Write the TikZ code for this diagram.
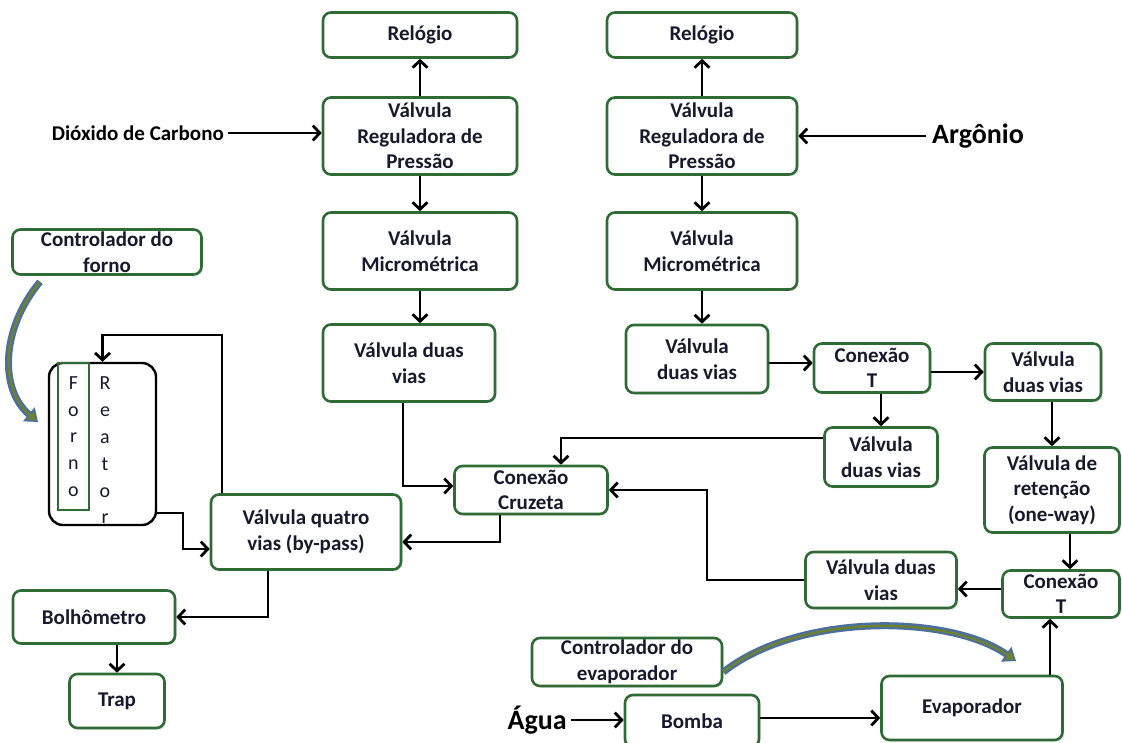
\documentclass[tikz,border=0pt]{standalone}
\usepackage{fontspec}
\setmainfont{Carlito}
\usetikzlibrary{arrows.meta,positioning,shadows}
\definecolor{boxgreen}{RGB}{47,107,53}
\definecolor{txt}{RGB}{25,25,45}
\definecolor{ctrlblue}{RGB}{74,111,160}
\definecolor{ctrlolive}{RGB}{110,128,50}
\tikzset{
  blk/.style={draw=boxgreen, line width=2.6pt, rounded corners=8pt, fill=white, align=center,
    text=txt, font=\fontsize{21}{25.5}\selectfont\bfseries, inner sep=0pt,
    drop shadow={opacity=0.25, shadow xshift=1.5pt, shadow yshift=-1.5pt}},
  lbl/.style={text=black, font=\fontsize{21}{25.5}\selectfont\bfseries, inner sep=0pt},
  biglbl/.style={text=black, font=\fontsize{28}{32}\selectfont\bfseries, inner sep=0pt},
  arr/.style={draw=black, line width=2.8pt, -{Straight Barb[length=7pt,width=15pt]}},
  ctrl/.style={draw=ctrlblue, line width=7pt, -{Triangle[length=12pt,width=18pt,line width=1.5pt,fill=ctrlolive]},
    postaction={draw=ctrlolive, line width=2.5pt, -, shorten >=10pt}},
  letters/.style={text=txt, font=\fontsize{20}{26.8}\selectfont, align=center, inner sep=0pt}
}
\begin{document}
\begin{tikzpicture}[x=1pt, y=-1pt]
\useasboundingbox (0,0) rectangle (1122,743);
% gas lines
\node[blk, minimum width=194pt, minimum height=45pt] (rel1) at (420,35) {Relógio};
\node[blk, minimum width=190pt, minimum height=45pt] (rel2) at (702,35) {Relógio};
\node[blk, minimum width=194pt, minimum height=77pt] (reg1) at (420,136) {Válvula\\Reguladora de\\Pressão};
\node[blk, minimum width=190pt, minimum height=77pt] (reg2) at (702,136) {Válvula\\Reguladora de\\Pressão};
\node[blk, minimum width=194pt, minimum height=77pt] (mic1) at (420,251) {Válvula\\Micrométrica};
\node[blk, minimum width=190pt, minimum height=77pt] (mic2) at (702,251) {Válvula\\Micrométrica};
\node[blk, minimum width=172pt, minimum height=77pt] (vdv1) at (409,363) {Válvula duas\\vias};
\node[blk, minimum width=142pt, minimum height=68pt] (vdv2) at (697,359) {Válvula\\duas vias};
\node[blk, minimum width=116pt, minimum height=49pt] (cT1) at (872,368) {Conexão\\T};
\node[blk, minimum width=116pt, minimum height=57pt] (vdv3) at (1043,372) {Válvula\\duas vias};
\node[blk, minimum width=113pt, minimum height=59pt] (vdv4) at (881,457) {Válvula\\duas vias};
\node[blk, minimum width=135pt, minimum height=85pt] (ret) at (1052,490) {Válvula de\\retenção\\(one-way)};
\node[blk, minimum width=117pt, minimum height=47pt] (cT2) at (1061,594) {Conexão\\T};
\node[blk, minimum width=151pt, minimum height=56pt] (vdv5) at (881,580) {Válvula duas\\vias};
\node[blk, minimum width=153pt, minimum height=48pt] (cruz) at (531,490) {Conexão\\Cruzeta};
\node[blk, minimum width=190pt, minimum height=75pt] (quat) at (306,532) {Válvula quatro\\vias (by-pass)};
\node[blk, minimum width=162pt, minimum height=53pt] (bolh) at (94,617) {Bolhômetro};
\node[blk, minimum width=95pt, minimum height=54pt] (trap) at (117,701) {Trap};
% controllers, water line
\node[blk, minimum width=189pt, minimum height=45pt] (cforno) at (107,252) {Controlador do\\forno};
\node[blk, minimum width=190pt, minimum height=48pt] (cevap) at (627,662) {Controlador do\\evaporador};
\node[blk, minimum width=134pt, minimum height=52pt] (bomba) at (692,721) {Bomba};
\node[blk, minimum width=181pt, minimum height=64pt] (evap) at (972,708) {Evaporador};
% furnace + reactor
\node[draw=black, line width=2.4pt, rounded corners=14pt, minimum width=107pt, minimum height=162pt] (reator) at (102.5,444) {};
\node[draw=boxgreen, line width=1.8pt, minimum width=31pt, minimum height=147pt] (forno) at (73.5,436.5) {};
\node[letters] (fornoTxt) at (73.5,436.5) {F\\o\\r\\n\\o};
\node[letters] (reatorTxt) at (105,450.5) {R\\e\\a\\t\\o\\r};
% feed labels
\node[lbl, anchor=east] (dioxido) at (224,133) {Dióxido de Carbono};
\node[biglbl, anchor=west] (argonio) at (932,136) {Argônio};
\node[biglbl, anchor=east] (agua) at (567,720) {Água};
% bend points
\coordinate (bendR) at (707,580);
\coordinate (bendL) at (183,513);
\coordinate (bendT) at (222,335);
\coordinate (fornoTip) at (38,422);
\coordinate (evapTip) at (1016,661);
% connectors
\draw[arr] ([xshift=4pt]dioxido.east) -- (dioxido.east -| reg1.west);
\draw[arr] ([xshift=-6pt]argonio.west) -- (argonio.west -| reg2.east);
\draw[arr] (reg1.north) -- (rel1.south);
\draw[arr] (reg2.north) -- (rel2.south);
\draw[arr] (reg1.south) -- (mic1.north);
\draw[arr] (reg2.south) -- (mic2.north);
\draw[arr] (mic1.south) -- (mic1.south |- vdv1.north);
\draw[arr] (mic2.south) -- (mic2.south |- vdv2.north);
\draw[arr] ([xshift=-6pt]vdv1.south) |- ([yshift=4pt]cruz.west);
\draw[arr] ([yshift=-4pt]vdv2.east) -- ([yshift=-4pt]vdv2.east -| cT1.west);
\draw[arr] (cT1.east |- vdv3.west) -- (vdv3.west);
\draw[arr] (vdv4.north |- cT1.south) -- (vdv4.north);
\draw[arr] ([yshift=19pt]vdv4.west) -| ([xshift=30pt]cruz.north);
\draw[arr] (ret.north |- vdv3.south) -- (ret.north);
\draw[arr] ([xshift=9pt]cT2.north |- ret.south) -- ([xshift=9pt]cT2.north);
\draw[arr] ([yshift=5pt]cT2.west) -- ([yshift=5pt]cT2.west -| vdv5.east);
\draw[arr] (vdv5.west) -- (bendR) |- (cruz.east);
\draw[arr] ([xshift=-11pt]cT2.south |- evap.north) -- ([xshift=-11pt]cT2.south);
\draw[arr] ([yshift=3pt]bomba.east) -- ([yshift=3pt]bomba.east -| evap.west);
\draw[arr] ([xshift=4pt]agua.east) -- (agua.east -| bomba.west);
\draw[arr] ([xshift=-31pt]cruz.south) |- ([yshift=-10pt]quat.east);
\draw[arr] (reator.east |- bendL) -- (bendL) |- ([yshift=-17pt]quat.west);
\draw[arr] ([xshift=-84pt]quat.north) -- (bendT) -| (reator.north);
\draw[arr] ([xshift=-38pt]quat.south) |- (bolh.east);
\draw[arr] (trap.north |- bolh.south) -- (trap.north);
% controller arcs
\draw[ctrl] ([xshift=-67pt, yshift=-6pt]cforno.south) .. controls (0,330) and (0,390) .. (fornoTip);
\draw[ctrl] ([yshift=-10pt]cevap.east) .. controls (800,612) and (950,615) .. (evapTip);
\end{tikzpicture}
\end{document}
